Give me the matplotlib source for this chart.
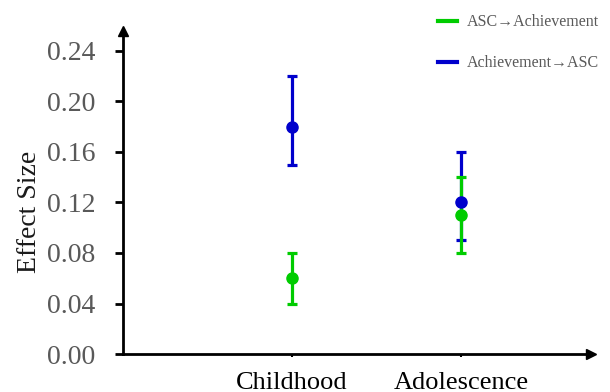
import matplotlib.pyplot as plt
from matplotlib.lines import Line2D

# data
stages = ['Childhood', 'Adolescence']
asc_ach = [0.06, 0.11]
asc_ach_lo = [0.04, 0.08]
asc_ach_hi = [0.08, 0.14]
ach_asc = [0.18, 0.12]
ach_asc_lo = [0.15, 0.09]
ach_asc_hi = [0.22, 0.16]
yticks = [0.00, 0.04, 0.08, 0.12, 0.16, 0.20, 0.24]

green = '#00cc00'
blue = '#0000cc'
grey = '#595959'

plt.rcParams['font.family'] = ['Liberation Serif', 'DejaVu Serif']

fig = plt.figure(figsize=(6.1, 3.92), dpi=100)
ax = fig.add_axes([0.2016, 0.0969, 0.767, 0.824])

xpos = [1, 2]


def bars(vals, lo, hi, col):
    err = [[v - l for v, l in zip(vals, lo)], [h - v for v, h in zip(vals, hi)]]
    ax.errorbar(xpos, vals, yerr=err, fmt='o', color=col, ecolor=col,
                elinewidth=2.3, capsize=3.5, capthick=2.3, markersize=8,
                clip_on=False, zorder=3)


bars(ach_asc, ach_asc_lo, ach_asc_hi, blue)
bars(asc_ach, asc_ach_lo, asc_ach_hi, green)

ax.set_xlim(0, 2.769)
ax.set_ylim(0, 0.2558)
ax.set_yticks(yticks)
ax.set_yticklabels(['%.2f' % t for t in yticks], color=grey, fontsize=20)
ax.set_xticks(xpos)
ax.set_xticklabels(stages, fontsize=19, color='black')
ax.tick_params(axis='y', direction='out', length=6, width=2, pad=14)
ax.tick_params(axis='x', direction='out', length=2, width=1.5, pad=11)

for s in ['top', 'right']:
    ax.spines[s].set_visible(False)
for s in ['left', 'bottom']:
    ax.spines[s].set_linewidth(2)

# arrow heads on the axes
ax.plot(1, 0, '>k', markersize=7.5, transform=ax.transAxes, clip_on=False)
ax.plot(0, 1, '^k', markersize=7.5, transform=ax.transAxes, clip_on=False)

ax.set_ylabel('Effect Size', fontsize=20, color='#1a1a1a', va='center')
ax.yaxis.set_label_coords(-0.199, 0.44)

handles = [Line2D([], [], color=green, lw=3), Line2D([], [], color=blue, lw=3)]
leg = fig.legend(handles, ['ASC\u2192Achievement', 'Achievement\u2192ASC'],
                 loc='upper left', bbox_to_anchor=(0.695, 1.0), frameon=False,
                 fontsize=11.5, handlelength=1.2, handletextpad=0.6, labelspacing=1.55)
for t in leg.get_texts():
    t.set_color(grey)

fig.savefig('out.png', dpi=100)
